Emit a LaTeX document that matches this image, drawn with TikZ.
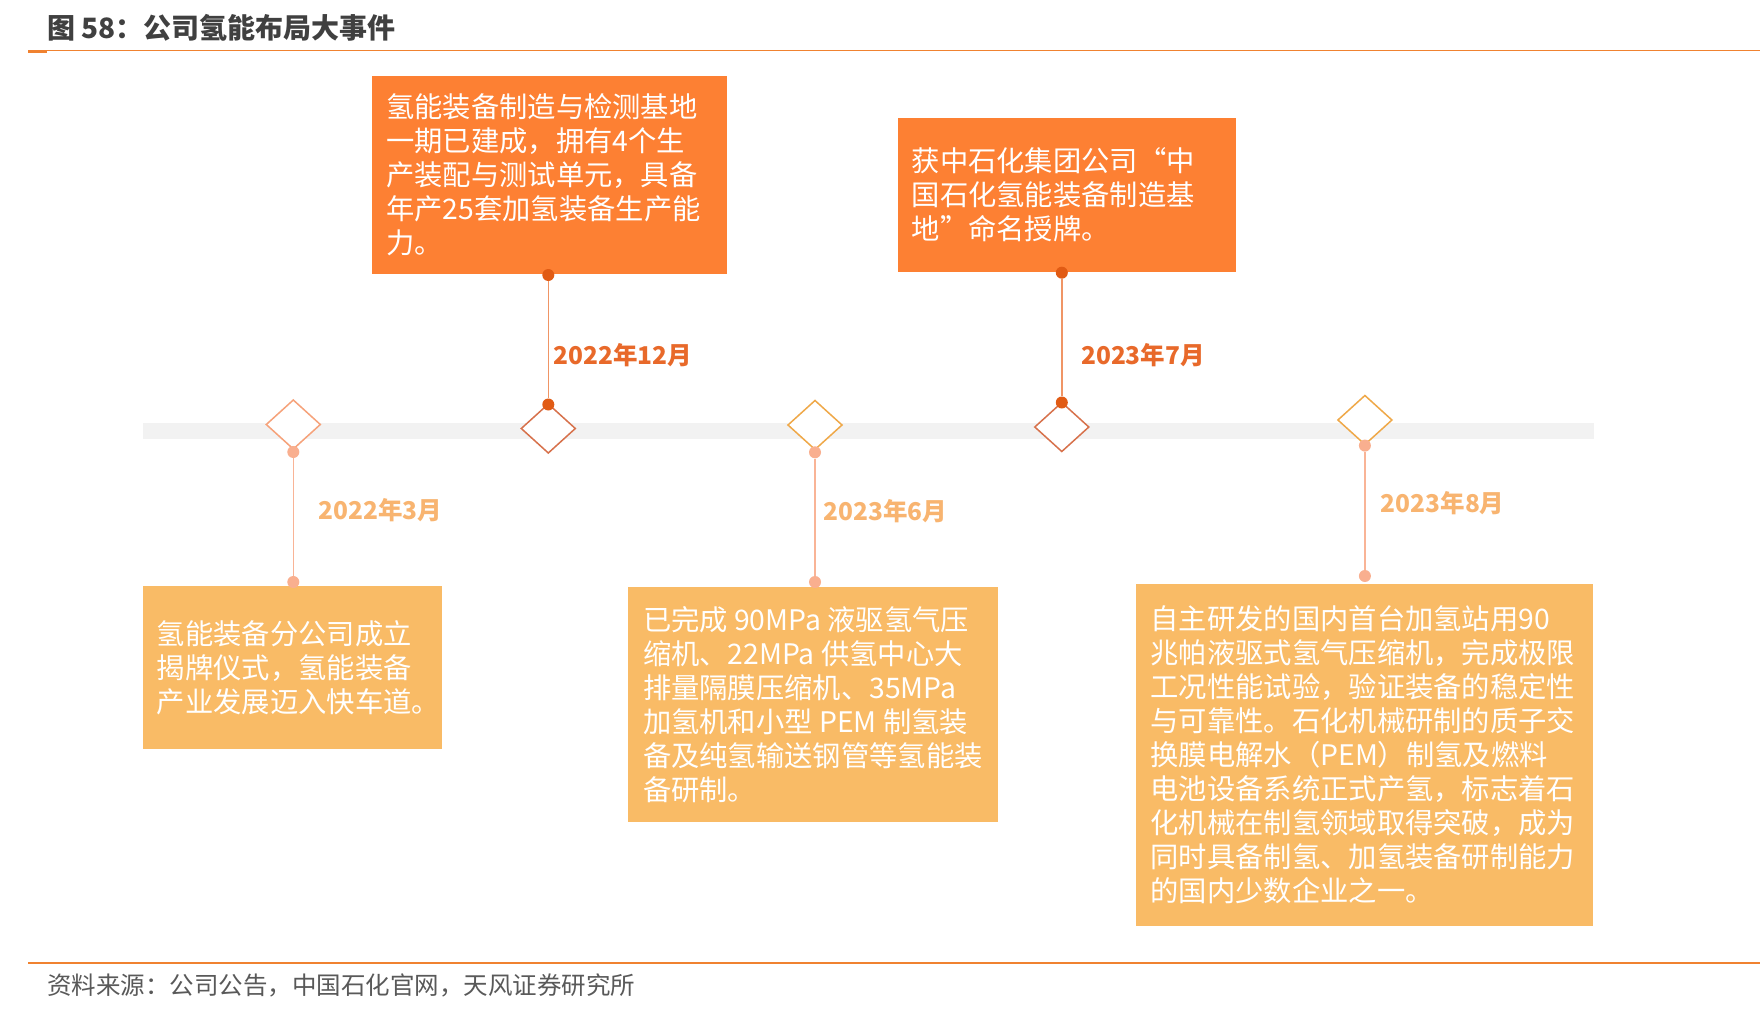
\documentclass[tikz,border=0pt]{standalone}
\usepackage{fontspec}
\setmainfont{Noto Sans CJK SC}
\usetikzlibrary{shapes.geometric}
\definecolor{dkorange}{HTML}{FD8033}
\definecolor{ltorange}{HTML}{F9BB66}
\definecolor{rulecol}{HTML}{F08230}
\definecolor{datetop}{HTML}{E8692A}
\definecolor{datebot}{HTML}{F8B470}
\definecolor{barcol}{HTML}{F2F2F2}
\definecolor{dmlight}{HTML}{F6A27A}
\definecolor{dmdark}{HTML}{D7714B}
\definecolor{dmyellow}{HTML}{EFA848}
\definecolor{dottop}{HTML}{E15B14}
\definecolor{dotbot}{HTML}{F9AF8F}
\definecolor{linetop}{HTML}{F09565}
\definecolor{linebot}{HTML}{F9B496}
\definecolor{titlecol}{HTML}{404040}
\definecolor{srccol}{HTML}{595959}
\begin{document}
\begin{tikzpicture}[x=1pt,y=-1pt,
  boxdark/.style={rectangle, fill=dkorange, inner sep=0pt, outer sep=0pt, anchor=north west},
  boxlight/.style={rectangle, fill=ltorange, inner sep=0pt, outer sep=0pt, anchor=north west},
  boxtext/.style={text=white, align=left, inner sep=0pt, anchor=west, font=\fontsize{28.3}{34}\selectfont},
  diam/.style={diamond, draw, fill=white, line width=1.5pt, minimum width=54pt, minimum height=49pt, inner sep=0pt, outer sep=0pt},
  dottopst/.style={circle, fill=dottop, minimum size=12pt, inner sep=0pt},
  dotbotst/.style={circle, fill=dotbot, minimum size=12pt, inner sep=0pt},
  contop/.style={draw=linetop, line width=1.5pt},
  conbot/.style={draw=linebot, line width=1.5pt},
  datet/.style={text=datetop, font=\fontsize{24.5}{30}\selectfont\bfseries, anchor=west, inner sep=0pt},
  dateb/.style={text=datebot, font=\fontsize{24.5}{30}\selectfont\bfseries, anchor=west, inner sep=0pt}
]
\useasboundingbox (0,0) rectangle (1760,1014);
\fill[white] (0,0) rectangle (1760,1014);

% title and rules
\node[anchor=west, font=\fontsize{28}{34}\selectfont\bfseries, text=titlecol, inner sep=0pt] (title) at (47,28) {图 58：公司氢能布局大事件};
\draw[rulecol, line width=1.5pt] (28,50.5) -- (1760,50.5);
\draw[rulecol, line width=3.5pt] (28,51.5) -- (47,51.5);
\draw[rulecol, line width=1.5pt] (28,963) -- (1760,963);
\node[anchor=west, font=\fontsize{24.5}{30}\selectfont, text=srccol, inner sep=0pt] (src) at (47,985) {资料来源：公司公告，中国石化官网，天风证券研究所};

% timeline bar
\fill[barcol] (142.5,423) rectangle (1594,439);

% boxes
\node[boxdark, minimum width=355.8pt, minimum height=197.6pt] (boxA) at (371.5,76.3) {};
\node[boxtext] (tA) at ([xshift=14.5pt]boxA.west) {氢能装备制造与检测基地\\一期已建成，拥有4个生\\产装配与测试单元，具备\\年产25套加氢装备生产能\\力。};

\node[boxdark, minimum width=337.8pt, minimum height=153.7pt] (boxB) at (898,117.9) {};
\node[boxtext] (tB) at ([xshift=13.5pt]boxB.west) {获中石化集团公司“中\\国石化氢能装备制造基\\地”命名授牌。};

\node[boxlight, minimum width=299pt, minimum height=163pt] (boxC) at (142.7,586) {};
\node[boxtext] (tC) at ([xshift=14pt]boxC.west) {氢能装备分公司成立\\揭牌仪式，氢能装备\\产业发展迈入快车道。};

\node[boxlight, minimum width=369.4pt, minimum height=235pt] (boxD) at (628.3,586.7) {};
\node[boxtext] (tD) at ([xshift=14.5pt]boxD.west) {已完成 90MPa 液驱氢气压\\缩机、22MPa 供氢中心大\\排量隔膜压缩机、35MPa\\加氢机和小型 PEM 制氢装\\备及纯氢输送钢管等氢能装\\备研制。};

\node[boxlight, minimum width=456.8pt, minimum height=342.3pt] (boxE) at (1135.9,583.7) {};
\node[boxtext] (tE) at ([xshift=14.5pt]boxE.west) {自主研发的国内首台加氢站用90\\兆帕液驱式氢气压缩机，完成极限\\工况性能试验，验证装备的稳定性\\与可靠性。石化机械研制的质子交\\换膜电解水（PEM）制氢及燃料\\电池设备系统正式产氢，标志着石\\化机械在制氢领域取得突破，成为\\同时具备制氢、加氢装备研制能力\\的国内少数企业之一。};

% diamonds
\node[diam, draw=dmlight] (m1) at (293.3,424.5) {};
\node[diam, draw=dmdark] (m2) at (548.3,428.5) {};
\node[diam, draw=dmyellow] (m3) at (815,425) {};
\node[diam, draw=dmdark] (m4) at (1061.8,427) {};
\node[diam, draw=dmyellow] (m5) at (1364.9,420) {};

% dots
\node[dotbotst] (p1a) at (293.3,452) {};
\node[dotbotst] (p1b) at (293.3,582) {};
\node[dottopst] (p2a) at (548.3,404.5) {};
\node[dottopst] (p2b) at (548.3,275) {};
\node[dotbotst] (p3a) at (815,452.3) {};
\node[dotbotst] (p3b) at (815,582) {};
\node[dottopst] (p4a) at (1061.8,402.5) {};
\node[dottopst] (p4b) at (1061.8,272.7) {};
\node[dotbotst] (p5a) at (1364.9,445.6) {};
\node[dotbotst] (p5b) at (1364.9,576) {};

% connectors
\draw[conbot] (p1a) -- (p1b);
\draw[contop] (p2a) -- (p2b);
\draw[conbot] (p3a) -- (p3b);
\draw[contop] (p4a) -- (p4b);
\draw[conbot] (p5a) -- (p5b);

% dates
\node[datet] (dA) at (553.4,354.7) {2022年12月};
\node[datet] (dB) at (1081,354.7) {2023年7月};
\node[dateb] (dC) at (318.3,510) {2022年3月};
\node[dateb] (dD) at (823.3,510.7) {2023年6月};
\node[dateb] (dE) at (1380.6,503) {2023年8月};
\end{tikzpicture}
\end{document}
